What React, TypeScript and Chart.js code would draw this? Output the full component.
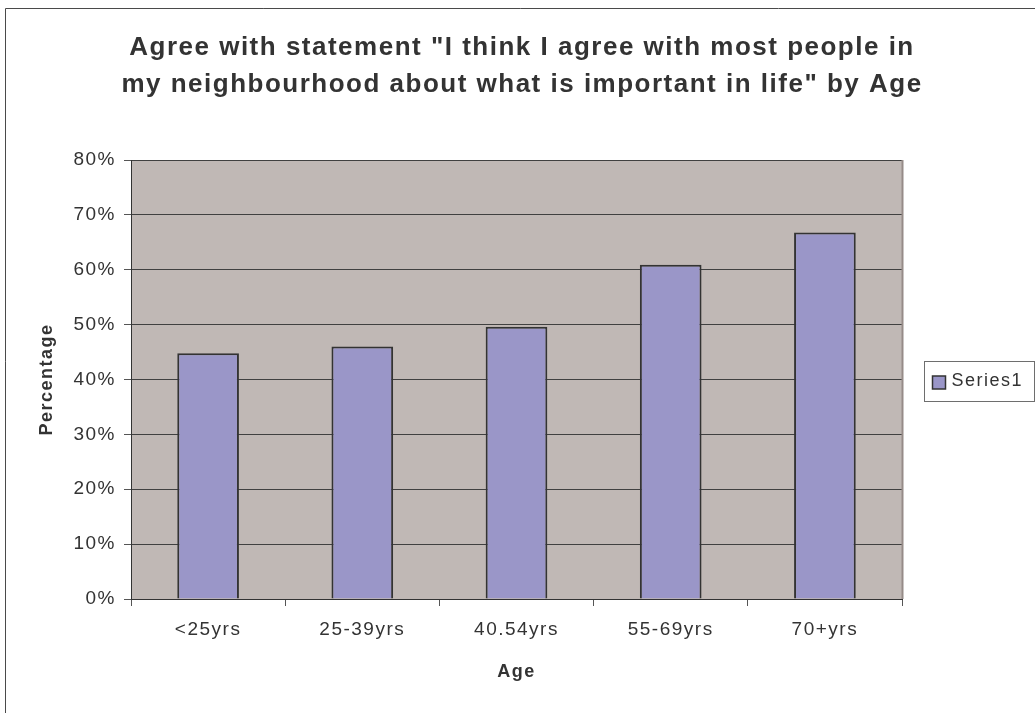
import React, { useEffect, useRef } from 'react';
import { Chart, registerables } from 'chart.js';

Chart.register(...registerables);

const categories = ['<25yrs', '25-39yrs', '40.54yrs', '55-69yrs', '70+yrs'];
const seriesName = 'Series1';
const values = [44.8, 46.0, 49.6, 60.9, 66.8];
const yMin = 0;
const yMax = 80;
const yStep = 10;
const titleLines = [
  'Agree with statement "I think I agree with most people in',
  'my neighbourhood about what is important in life" by Age',
];
const xTitle = 'Age';
const yTitle = 'Percentage';

const FONT = "'Liberation Sans', Arial, Helvetica, sans-serif";
const TEXT = '#333333';
const BAR = '#9a96c8';
const PLOT_BG = '#c0b8b5';
const SPACING = '1.5px';

const decoPlugin = {
  id: 'deco',
  beforeDraw(chart: any) {
    const { ctx, width, height, chartArea } = chart;
    ctx.save();
    ctx.fillStyle = '#ffffff';
    ctx.fillRect(0, 0, width, height);
    // outer frame
    ctx.strokeStyle = '#4a4a4a';
    ctx.lineWidth = 1;
    ctx.beginPath();
    ctx.moveTo(5.5, height + 2);
    ctx.lineTo(5.5, 8.5);
    ctx.lineTo(width + 2, 8.5);
    ctx.stroke();
    // plot background
    ctx.fillStyle = PLOT_BG;
    ctx.fillRect(chartArea.left, chartArea.top, chartArea.right - chartArea.left, chartArea.bottom - chartArea.top);
    ctx.restore();
    ctx.letterSpacing = SPACING;
  },
  afterDatasetsDraw(chart: any) {
    const { ctx, chartArea } = chart;
    ctx.save();
    ctx.strokeStyle = '#968b88';
    ctx.lineWidth = 2;
    ctx.beginPath();
    ctx.moveTo(chartArea.right + 0.5, chartArea.bottom);
    ctx.lineTo(chartArea.right + 0.5, chartArea.top);
    ctx.stroke();
    ctx.restore();
  },
  afterDraw(chart: any) {
    const { ctx, chartArea } = chart;
    // title
    ctx.save();
    ctx.letterSpacing = SPACING;
    ctx.fillStyle = TEXT;
    ctx.font = `bold 26px ${FONT}`;
    ctx.textAlign = 'center';
    ctx.textBaseline = 'middle';
    const tx = 522;
    titleLines.forEach((line, i) => {
      ctx.fillText(line, tx, 48 + i * 37);
    });
    ctx.restore();

    // legend
    const label = chart.data.datasets[0].label as string;
    ctx.save();
    ctx.letterSpacing = SPACING;
    const boxL = chartArea.right + 22.5;
    const boxW = 110;
    const boxH = 40;
    const cy = (chartArea.top + chartArea.bottom) / 2 + 1;
    const boxT = Math.round(cy - boxH / 2) + 0.5;
    ctx.strokeStyle = '#6e6e6e';
    ctx.lineWidth = 1;
    ctx.fillStyle = '#ffffff';
    ctx.fillRect(boxL, boxT, boxW, boxH);
    ctx.strokeRect(boxL, boxT, boxW, boxH);
    const sw = 13;
    const sx = boxL + 8;
    const sy = boxT + boxH / 2 - sw / 2 + 1;
    ctx.fillStyle = BAR;
    ctx.fillRect(sx, sy, sw, sw);
    ctx.strokeStyle = '#333333';
    ctx.lineWidth = 1.5;
    ctx.strokeRect(sx, sy, sw, sw);
    ctx.fillStyle = TEXT;
    ctx.font = `18px ${FONT}`;
    ctx.textBaseline = 'middle';
    ctx.textAlign = 'left';
    ctx.fillText(label, sx + sw + 6, boxT + boxH / 2);
    ctx.restore();
  },
};

export default function App() {
  const ref = useRef<HTMLCanvasElement | null>(null);

  useEffect(() => {
    if (!ref.current) return;
    const chart = new Chart(ref.current, {
      type: 'bar',
      data: {
        labels: categories,
        datasets: [
          {
            label: seriesName,
            data: values,
            backgroundColor: BAR,
            borderColor: '#333333',
            borderWidth: 2,
            barPercentage: 0.4,
            categoryPercentage: 1,
          },
        ],
      },
      options: {
        responsive: false,
        animation: false,
        events: [],
        layout: { padding: { left: 36, right: 133, top: 160, bottom: 30 } },
        plugins: {
          legend: { display: false },
          tooltip: { enabled: false },
          title: { display: false },
        },
        scales: {
          x: {
            grid: {
              display: true,
              drawOnChartArea: false,
              drawTicks: true,
              tickLength: 7,
              color: '#555555',
              offset: true,
            },
            border: { display: true, color: '#333333', width: 1 },
            ticks: {
              color: TEXT,
              font: { family: FONT, size: 19 },
              padding: 12,
              maxRotation: 0,
              autoSkip: false,
            },
            title: {
              display: true,
              text: xTitle,
              color: TEXT,
              font: { family: FONT, size: 18, weight: 'bold' },
              padding: 0,
            },
            afterFit(scale: any) {
              scale.height = 84;
            },
          },
          y: {
            min: yMin,
            max: yMax,
            grid: { color: '#404040', tickLength: 7, drawTicks: true, tickColor: '#555555' },
            border: { display: true, color: '#333333', width: 1 },
            ticks: {
              stepSize: yStep,
              color: TEXT,
              font: { family: FONT, size: 19 },
              padding: 8,
              callback: (v: any) => `${v}%`,
            },
            title: {
              display: true,
              text: yTitle,
              color: TEXT,
              font: { family: FONT, size: 18, weight: 'bold' },
              padding: 0,
            },
            afterFit(scale: any) {
              scale.width = 95;
            },
          },
        },
      },
      plugins: [decoPlugin],
    });
    return () => chart.destroy();
  }, []);

  return (
    <div style={{ position: 'fixed', left: 0, top: 0, width: 1035, height: 713, background: '#fff' }}>
      <canvas ref={ref} width={1035} height={713} style={{ display: 'block', width: 1035, height: 713 }} />
    </div>
  );
}
